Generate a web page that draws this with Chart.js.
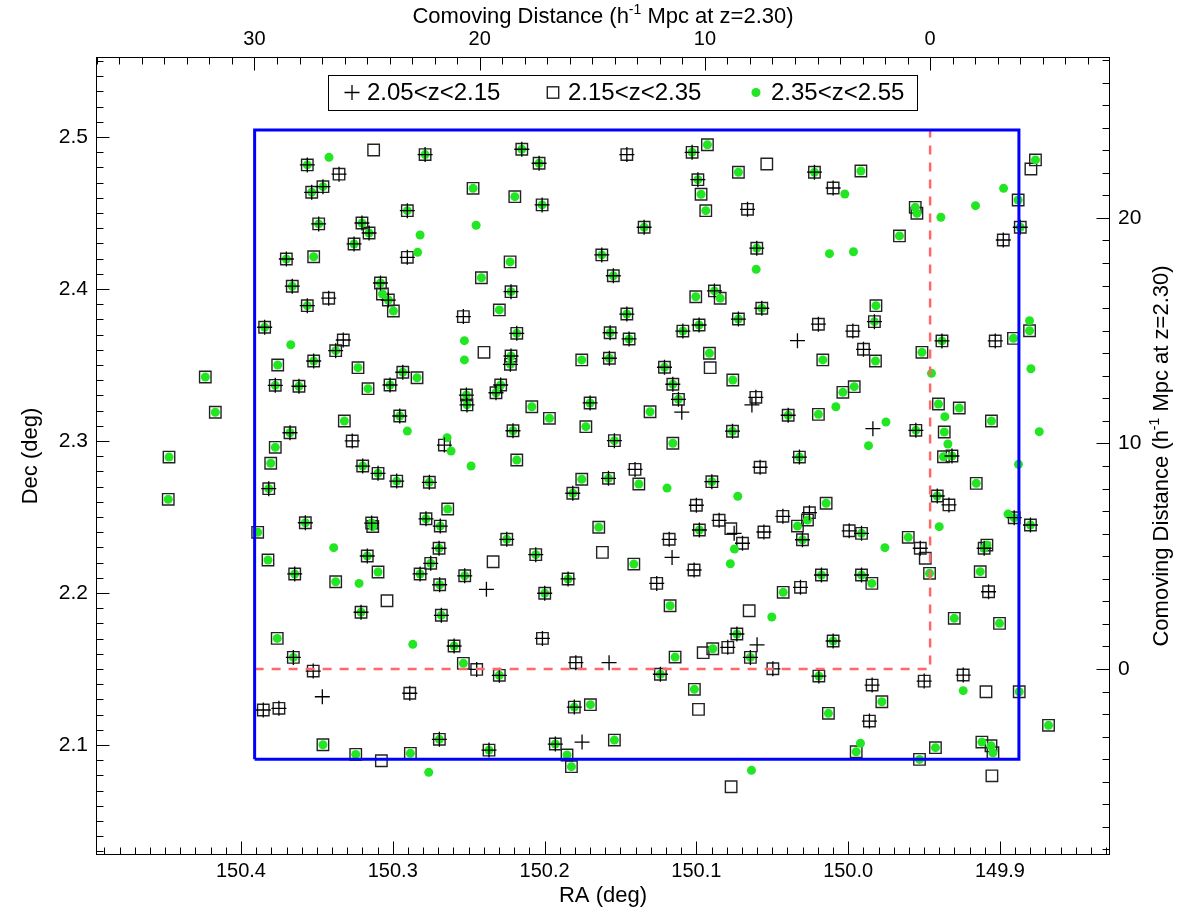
<!DOCTYPE html>
<html>
<head>
<meta charset="utf-8">
<title>Sky positions by redshift bin</title>
<script src="https://cdn.jsdelivr.net/npm/chart.js@4.4.1/dist/chart.umd.min.js"></script>
<style>
  html, body { margin: 0; padding: 0; background: #fff; }
  #wrap { width: 1183px; height: 912px; }
</style>
</head>
<body>
<div id="wrap"><canvas id="sky" width="1183" height="912"></canvas></div>
<script>
// Source positions (deg) and the redshift bins each one shows up in:
// p = 2.05<z<2.15, s = 2.15<z<2.35, g = 2.35<z<2.55
const srcRA = [
  150.3126, 150.3420, 150.3563, 150.3354, 150.3460, 150.3534, 150.3488, 150.3203, 150.3156, 150.3255,
  150.3701, 150.3521, 150.3662, 150.3081, 150.3068, 150.3029, 150.2996, 150.3563, 150.3422, 150.3844,
  150.3672, 150.3326, 150.3376, 150.3758, 150.3521, 150.3229, 150.3774, 150.3618, 150.3163, 150.3018,
  150.4235, 150.4169, 150.3319, 150.3677, 150.3267, 150.3774, 150.4474, 150.3804, 150.4479, 150.3817,
  150.3198, 150.3097, 150.3576, 150.3890, 150.3139, 150.3132, 150.3389, 150.3168, 150.3822, 150.3646,
  150.3376, 150.3222, 150.3097, 150.3038, 150.3209, 150.3761, 150.3655, 150.3524, 150.3464, 150.3853,
  150.3750, 150.3460, 150.3244, 150.3075, 150.2787, 150.2150, 150.2036, 150.2471, 150.2196, 150.2016,
  150.2904, 150.2451, 150.2820, 150.2836, 150.2904, 150.2227, 150.2416, 150.2221, 150.2298, 150.2535,
  150.1623, 150.1547, 150.2183, 150.2528, 150.2528, 150.2399, 150.2221, 150.2225, 150.1755, 150.1568,
  150.1573, 150.2934, 150.2840, 150.2289, 150.2320, 150.2515, 150.2511, 150.2084, 150.1968, 150.1728,
  150.1700, 150.2954, 150.2904, 150.2642, 150.2616, 150.2660, 150.2208, 150.1540, 150.2183, 150.2484,
  150.2974, 150.2759, 150.1755, 150.1579, 150.1814, 150.2638, 150.2781, 150.2687, 150.1643, 150.2249,
  150.1619, 150.2695, 150.2339, 150.2058, 150.2750, 150.2820, 150.2526, 150.2383, 150.1845, 150.2691,
  150.1999, 150.2680, 150.2014, 150.2868, 150.2596, 150.2535, 150.2447, 150.2298, 150.1794, 150.1575,
  150.2888, 150.1804, 150.1698, 150.2693, 150.1753, 150.1929, 150.1540, 150.2884, 150.2366, 150.1852,
  150.1823, 150.2763, 150.1458, 150.1028, 150.0927, 150.0723, 150.0536, 150.0222, 150.0099, 150.0022,
  150.0990, 150.0969, 150.0938, 150.0663, 150.1344, 150.0602, 150.0606, 150.0123, 149.9965, 150.1004,
  150.0881, 150.0843, 150.0569, 150.1458, 150.1443, 150.1089, 150.0982, 150.0723, 150.0196, 150.0334,
  149.9969, 150.0914, 150.0909, 150.0167, 150.1210, 150.0760, 150.1155, 150.1118, 150.1096, 150.0608,
  150.0634, 150.0035, 150.0081, 150.1305, 150.0395, 150.0196, 150.0762, 150.1155, 150.0321, 149.9916,
  149.8976, 149.8766, 149.8796, 149.9558, 149.9547, 149.9389, 149.9161, 149.8880, 149.8866, 149.8978,
  149.9662, 149.9817, 149.9827, 149.9899, 149.9820, 149.9514, 149.9382, 149.9031, 149.8911, 149.8805,
  149.8805, 149.8796, 149.9451, 149.9960, 149.9405, 149.9268, 149.9363, 149.9056, 149.9751, 149.9837,
  149.9554, 149.9367, 149.9343, 149.9866, 149.8741, 149.9372, 149.9316, 150.1404, 150.0580, 150.1379,
  150.1193, 150.0898, 150.0727, 150.1000, 150.0145, 150.0850, 150.0773, 150.0751, 150.0430, 150.0255,
  150.0268, 150.0334, 150.0980, 150.0555, 150.0696, 150.0301, 150.1179, 150.1160, 150.0749, 150.0776,
  150.1412, 150.1015, 150.0176, 150.1261, 150.0428, 150.0314, 150.1173, 150.0652, 150.0503, 150.0733,
  150.0099, 150.0600, 150.1140, 150.0955, 150.0892, 150.0793, 150.0644, 150.1237, 150.0496, 150.0193,
  150.1013, 150.0986, 150.0130, 150.0637, 150.0771, 149.8878, 149.9156, 149.9413, 149.9336, 149.8947,
  149.8906, 149.8799, 149.9993, 149.9912, 149.9400, 149.9604, 149.9758, 149.9525, 149.9492, 149.9104,
  149.9086, 149.9912, 149.9844, 149.9464, 149.9130, 149.9075, 149.9301, 149.9003, 149.9842, 149.9499,
  149.9242, 149.9242, 149.9092, 149.8873, 149.9778, 149.9860, 149.8680, 149.9919, 149.9947, 149.9425,
  149.9530, 149.9119, 149.9059, 149.9046, 149.9053
];
const srcDec = [
  2.4914, 2.4866, 2.4816, 2.4755, 2.4673, 2.4636, 2.4428, 2.4434, 2.4368, 2.4296,
  2.4197, 2.4212, 2.4018, 2.4039, 2.3967, 2.3927, 2.3855, 2.3890, 2.3939, 2.3748,
  2.3633, 2.3664, 2.3594, 2.3500, 2.3526, 2.3482, 2.3366, 2.3360, 2.3344, 2.3368,
  2.3421, 2.3189, 2.3131, 2.3054, 2.3000, 2.2958, 2.2894, 2.2853, 2.2616, 2.2686,
  2.2835, 2.2787, 2.2462, 2.2399, 2.2460, 2.2437, 2.2298, 2.2243, 2.2217, 2.2125,
  2.2074, 2.2063, 2.2138, 2.1949, 2.1873, 2.1701, 2.1576, 2.1486, 2.1317, 2.1230,
  2.1241, 2.1001, 2.0938, 2.0896, 2.4884, 2.4919, 2.4827, 2.4662, 2.4607, 2.4553,
  2.4515, 2.4419, 2.4355, 2.4241, 2.4208, 2.4178, 2.4074, 2.3982, 2.3862, 2.3818,
  2.4224, 2.4087, 2.3708, 2.3660, 2.3533, 2.3583, 2.3559, 2.3504, 2.3533, 2.3712,
  2.3544, 2.3452, 2.3416, 2.3368, 2.3317, 2.3302, 2.3237, 2.3225, 2.3149, 2.3094,
  2.3250, 2.3164, 2.3065, 2.3021, 2.2934, 2.2973, 2.3067, 2.3002, 2.2875, 2.2835,
  2.2736, 2.2728, 2.2748, 2.2754, 2.2656, 2.2552, 2.2488, 2.2440, 2.2432, 2.2353,
  2.2267, 2.2294, 2.2205, 2.2252, 2.2195, 2.2125, 2.2113, 2.2024, 2.2092, 2.2054,
  2.1998, 2.1853, 2.1701, 2.1662, 2.1651, 2.1537, 2.1497, 2.1458, 2.1541, 2.1541,
  2.1340, 2.1249, 2.1265, 2.1037, 2.1019, 2.1006, 2.1032, 2.0945, 2.0966, 2.0934,
  2.0857, 2.0820, 2.4884, 2.4899, 2.4949, 2.4768, 2.4822, 2.4768, 2.4664, 2.4625,
  2.4719, 2.4623, 2.4515, 2.4524, 2.4406, 2.4268, 2.4129, 2.4232, 2.4245, 2.3949,
  2.3987, 2.3939, 2.3873, 2.3835, 2.3671, 2.3723, 2.3763, 2.3802, 2.3768, 2.3660,
  2.3723, 2.3577, 2.3482, 2.3533, 2.3485, 2.3401, 2.3373, 2.3274, 2.3189, 2.3287,
  2.3237, 2.3320, 2.3225, 2.3192, 2.3169, 2.3175, 2.3064, 2.2985, 2.2894, 2.4776,
  2.4662, 2.4849, 2.4789, 2.4537, 2.4498, 2.4472, 2.4548, 2.4585, 2.4406, 2.4322,
  2.4349, 2.3890, 2.3785, 2.3603, 2.3526, 2.3583, 2.3658, 2.3658, 2.3675, 2.3791,
  2.3725, 2.3475, 2.3445, 2.3357, 2.3243, 2.3217, 2.3160, 2.3131, 2.3125, 2.3081,
  2.3070, 2.3059, 2.2980, 2.2969, 2.3061, 2.2896, 2.2901, 2.2813, 2.2827, 2.2717,
  2.2690, 2.2732, 2.2636, 2.2577, 2.2590, 2.2478, 2.2423, 2.2392, 2.2504, 2.2528,
  2.2480, 2.2440, 2.2414, 2.2401, 2.2327, 2.2350, 2.2353, 2.2234, 2.2289, 2.2192,
  2.2190, 2.2151, 2.2118, 2.2063, 2.2004, 2.2037, 2.1916, 2.1883, 2.1842, 2.1730,
  2.1684, 2.1659, 2.1578, 2.1607, 2.1633, 2.1642, 2.1576, 2.1465, 2.1501, 2.1453,
  2.1366, 2.1234, 2.1208, 2.0833, 2.0725, 2.2846, 2.2721, 2.2638, 2.2579, 2.2519,
  2.2495, 2.2447, 2.2409, 2.2392, 2.2436, 2.2366, 2.2298, 2.2294, 2.2228, 2.2294,
  2.2315, 2.2118, 2.2063, 2.2129, 2.2140, 2.2008, 2.1833, 2.1800, 2.1394, 2.1420,
  2.1460, 2.1357, 2.1350, 2.1350, 2.1284, 2.1157, 2.1129, 2.1011, 2.0955, 2.0982,
  2.0905, 2.1019, 2.0995, 2.0949, 2.0797
];
const srcBins = [
  's','g','psg','ps','psg','psg','psg','psg','psg','psg',
  'psg','sg','psg','psg','sg','psg','sg','psg','ps','psg',
  'g','ps','psg','sg','psg','sg','psg','psg','sg','psg',
  'sg','sg','sg','psg','ps','sg','sg','sg','sg','psg',
  'psg','psg','psg','sg','psg','sg','g','psg','sg','psg',
  'sg','g','sg','s','psg','sg','psg','ps','p','ps',
  'ps','sg','sg','s','psg','psg','psg','sg','sg','psg',
  'psg','g','g','g','ps','sg','sg','psg','sg','ps',
  'psg','psg','psg','g','g','s','psg','psg','sg','psg',
  'psg','psg','sg','psg','psg','psg','psg','sg','sg','sg',
  'psg','psg','g','g','g','ps','psg','psg','sg','g',
  'psg','psg','sg','psg','psg','sg','psg','psg','sg','psg',
  's','psg','s','psg','psg','psg','psg','p','psg','psg',
  'psg','psg','ps','g','psg','sg','ps','psg','ps','p',
  'ps','psg','sg','psg','p','psg','sg','sg','psg','sg',
  'sg','g','ps','psg','sg','sg','s','psg','ps','g',
  'psg','sg','sg','ps','psg','psg','g','g','g','sg',
  'psg','sg','psg','psg','psg','psg','psg','psg','ps','p',
  'ps','sg','s','sg','psg','sg','psg','psg','p','ps',
  'p','sg','g','sg','psg','sg','psg','sg','psg','sg',
  'g','sg','s','sg','sg','g','g','sg','psg','ps',
  'sg','sg','psg','ps','sg','sg','psg','ps','sg','g',
  'sg','g','g','sg','sg','sg','g','sg','g','p',
  'psg','sg','g','g','g','sg','psg','ps','ps','sg',
  'g','psg','g','ps','sg','ps','s','p','ps','ps',
  'sg','sg','psg','ps','ps','psg','ps','p','g','g',
  'sg','ps','psg','ps','sg','ps','sg','s','g','psg',
  'psg','p','sg','s','sg','ps','psg','psg','ps','psg',
  'sg','s','sg','g','s','g','sg','psg','ps','g',
  'psg','psg','ps','psg','g','sg','g','ps','s','psg',
  'sg','psg','sg','sg','sg','ps','sg','sg','ps','ps',
  'ps','g','s','sg','sg','ps','sg','g','sg','sg',
  'sg','sg','sg','sg','s'
];

const binKeys   = ['p', 's', 'g'];
const binLabels = ['2.05<z<2.15', '2.15<z<2.35', '2.35<z<2.55'];

// axis ranges and tick values
const raRange   = [149.8275, 150.4955];
const decRange  = [2.0276, 2.5526];
const raTicks   = [149.9, 150.0, 150.1, 150.2, 150.3, 150.4];
const decTicks  = [2.1, 2.2, 2.3, 2.4, 2.5];
const distTicks = [0, 10, 20, 30];

// survey field outline and the comoving-distance origin
const fieldRA  = [150.391, 149.8875];
const fieldDec = [2.0906, 2.5046];
const refRA  = 149.946;
const refDec = 2.15;
const MPC_PER_DEG = 67.4;   // h^-1 Mpc per degree at z=2.30

const FONT  = "'Liberation Sans', Arial, Helvetica, sans-serif";
const GREEN = '#22e622';

const toDist = (v, origin) => (v - origin) * MPC_PER_DEG;

function pointsIn(key) {
  const out = [];
  srcRA.forEach((ra, i) => {
    if (srcBins[i].includes(key)) out.push({ x: ra, y: srcDec[i] });
  });
  return out;
}

const fieldBox = [
  { x: fieldRA[0], y: fieldDec[0] }, { x: fieldRA[0], y: fieldDec[1] },
  { x: fieldRA[1], y: fieldDec[1] }, { x: fieldRA[1], y: fieldDec[0] },
  { x: fieldRA[0], y: fieldDec[0] }
];
const originLines = [
  { x: fieldRA[0], y: refDec }, { x: refRA, y: refDec }, { x: refRA, y: fieldDec[1] }
];

// inward IDL-style ticks on all four sides
function sideTicks(ctx, scale, step, every, draw) {
  const lo = Math.min(scale.min, scale.max), hi = Math.max(scale.min, scale.max);
  for (let k = Math.ceil(lo / step - 1e-6); k <= Math.floor(hi / step + 1e-6); k++) {
    const px = Math.round(scale.getPixelForValue(k * step)) + 0.5;
    draw(px, k % every === 0 ? 13 : 7);
  }
}

function titleWithSup(ctx, x, y) {
  const a = 'Comoving Distance (h', sup = '-1', b = ' Mpc at z=2.30)';
  ctx.font = '22px ' + FONT;
  const wa = ctx.measureText(a).width, wb = ctx.measureText(b).width;
  ctx.font = '14px ' + FONT;
  const ws = ctx.measureText(sup).width;
  let cx = x - (wa + ws + wb) / 2;
  ctx.textAlign = 'left';
  ctx.textBaseline = 'alphabetic';
  ctx.font = '22px ' + FONT; ctx.fillText(a, cx, y); cx += wa;
  ctx.font = '14px ' + FONT; ctx.fillText(sup, cx, y - 9); cx += ws;
  ctx.font = '22px ' + FONT; ctx.fillText(b, cx, y);
}

const framePlugin = {
  id: 'frame',
  afterDraw(chart) {
    const { ctx, chartArea: a, scales } = chart;
    ctx.save();
    ctx.strokeStyle = '#000';
    ctx.fillStyle = '#000';
    ctx.lineWidth = 1;
    const L = Math.round(a.left) + 0.5, R = Math.round(a.right) - 0.5;
    const T = Math.round(a.top) + 0.5, B = Math.round(a.bottom) - 0.5;
    ctx.strokeRect(L, T, R - L, B - T);

    ctx.beginPath();
    sideTicks(ctx, scales.x, 0.01, 10, (p, n) => { ctx.moveTo(p, B); ctx.lineTo(p, B - n); });
    sideTicks(ctx, scales.xTop, 1, 10, (p, n) => { ctx.moveTo(p, T); ctx.lineTo(p, T + n); });
    sideTicks(ctx, scales.y, 0.01, 10, (p, n) => { ctx.moveTo(L, p); ctx.lineTo(L + n, p); });
    sideTicks(ctx, scales.yRight, 1, 10, (p, n) => { ctx.moveTo(R, p); ctx.lineTo(R - n, p); });
    ctx.stroke();

    // top and right axis titles (with superscript)
    titleWithSup(ctx, (a.left + a.right) / 2, 23);
    ctx.save();
    ctx.translate(1168, (a.top + a.bottom) / 2);
    ctx.rotate(-Math.PI / 2);
    titleWithSup(ctx, 0, 0);
    ctx.restore();

    // legend
    const lx = 328, ly = 75, lw = 589, lh = 35, cy = ly + lh / 2;
    ctx.lineWidth = 1;
    ctx.strokeRect(lx + 0.5, ly + 0.5, lw, lh);
    const marks = [352, 553, 756];
    ctx.font = '24px ' + FONT;
    ctx.textBaseline = 'middle';
    ctx.textAlign = 'left';
    binKeys.forEach((key, i) => {
      const mx = marks[i];
      if (key === 'p') {
        ctx.lineWidth = 1.3;
        ctx.beginPath();
        ctx.moveTo(mx - 7.5, cy); ctx.lineTo(mx + 7.5, cy);
        ctx.moveTo(mx, cy - 7.5); ctx.lineTo(mx, cy + 7.5);
        ctx.stroke();
      } else if (key === 's') {
        ctx.lineWidth = 1.4;
        ctx.strokeStyle = '#222';
        ctx.strokeRect(mx - 5.7, cy - 5.7, 11.4, 11.4);
        ctx.strokeStyle = '#000';
      } else {
        ctx.fillStyle = GREEN;
        ctx.beginPath(); ctx.arc(mx, cy, 4.5, 0, Math.PI * 2); ctx.fill();
        ctx.fillStyle = '#000';
      }
      ctx.fillText(binLabels[i], mx + 15, cy + 1);
    });
    ctx.restore();
  }
};

const tickFont = { family: FONT, size: 20 };
const titleFont = { family: FONT, size: 22 };

new Chart(document.getElementById('sky'), {
  type: 'scatter',
  data: {
    datasets: [
      {
        label: 'field', data: fieldBox, showLine: true, pointRadius: 0,
        borderColor: '#0000ff', borderWidth: 3, order: -2, xAxisID: 'x', yAxisID: 'y'
      },
      {
        label: 'origin', data: originLines, showLine: true, pointRadius: 0,
        borderColor: '#ff6868', borderWidth: 2.5, borderDash: [9, 8], order: -1,
        xAxisID: 'x', yAxisID: 'y'
      },
      {
        label: binLabels[0], data: pointsIn('p'), pointStyle: 'cross', pointRadius: 7.5,
        borderColor: '#000', borderWidth: 1.3, order: 0, xAxisID: 'x', yAxisID: 'y'
      },
      {
        label: binLabels[2], data: pointsIn('g'), pointStyle: 'circle', pointRadius: 4.5,
        backgroundColor: GREEN, borderColor: GREEN, borderWidth: 0, order: 1,
        xAxisID: 'x', yAxisID: 'y'
      },
      {
        label: binLabels[1], data: pointsIn('s'), pointStyle: 'rect', pointRadius: 8.1,
        backgroundColor: 'rgba(0,0,0,0)', borderColor: '#222', borderWidth: 1.4, order: 2,
        xAxisID: 'x', yAxisID: 'y'
      }
    ]
  },
  options: {
    responsive: false,
    animation: false,
    events: [],
    layout: { padding: 0 },
    plugins: { legend: { display: false }, tooltip: { enabled: false } },
    scales: {
      x: {
        type: 'linear', position: 'bottom', reverse: true,
        min: raRange[0], max: raRange[1],
        grid: { display: false, drawTicks: false }, border: { display: false },
        afterBuildTicks: s => { s.ticks = raTicks.map(v => ({ value: v })); },
        afterFit: s => { s.height = 57; },
        ticks: { autoSkip: false, maxRotation: 0, padding: 4, color: '#000', font: tickFont,
                 callback: v => v.toFixed(1) },
        title: { display: true, text: 'RA (deg)', color: '#000', font: titleFont,
                 padding: { top: 0, bottom: 3 } }
      },
      xTop: {
        type: 'linear', position: 'top', reverse: true,
        min: toDist(raRange[0], refRA), max: toDist(raRange[1], refRA),
        grid: { display: false, drawTicks: false }, border: { display: false },
        afterBuildTicks: s => { s.ticks = distTicks.filter(v => v >= s.min && v <= s.max).map(v => ({ value: v })); },
        afterFit: s => { s.height = 57; },
        ticks: { autoSkip: false, maxRotation: 0, padding: 6, color: '#000', font: tickFont,
                 callback: v => String(v) }
      },
      y: {
        type: 'linear', position: 'left',
        min: decRange[0], max: decRange[1],
        grid: { display: false, drawTicks: false }, border: { display: false },
        afterBuildTicks: s => { s.ticks = decTicks.map(v => ({ value: v })); },
        afterFit: s => { s.width = 96; },
        ticks: { autoSkip: false, padding: 8, color: '#000', font: { family: FONT, size: 21 },
                 callback: v => v.toFixed(1) },
        title: { display: true, text: 'Dec (deg)', color: '#000', font: titleFont,
                 padding: { top: 18, bottom: 0 } }
      },
      yRight: {
        type: 'linear', position: 'right',
        min: toDist(decRange[0], refDec), max: toDist(decRange[1], refDec),
        grid: { display: false, drawTicks: false }, border: { display: false },
        afterBuildTicks: s => { s.ticks = distTicks.filter(v => v >= s.min && v <= s.max).map(v => ({ value: v })); },
        afterFit: s => { s.width = 73; },
        ticks: { autoSkip: false, padding: 8, color: '#000', font: { family: FONT, size: 21 },
                 callback: v => String(v) }
      }
    }
  },
  plugins: [framePlugin]
});
</script>
</body>
</html>
